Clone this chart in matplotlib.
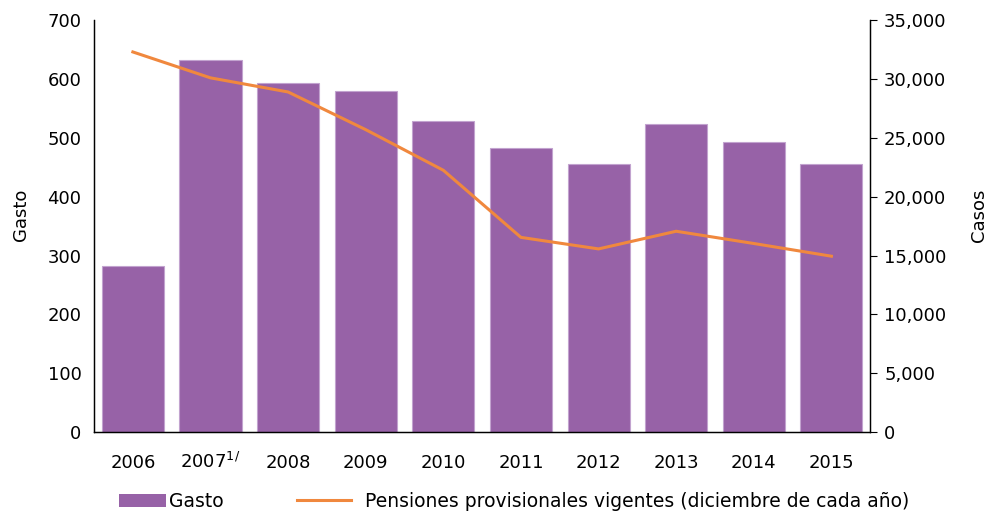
import matplotlib.pyplot as plt
import numpy as np
from matplotlib.ticker import FuncFormatter
from matplotlib.patches import Patch
from matplotlib.lines import Line2D

plt.rcParams["font.family"] = ["DejaVu Sans"]
FS = 13

# ── Data ────────────────────────────────────────────────────────
years = ["2006", r"2007$^{\mathregular{1/}}$", "2008", "2009", "2010",
         "2011", "2012", "2013", "2014", "2015"]
gasto = [282, 632, 594, 580, 528, 482, 455, 524, 493, 456]
casos = [32300, 30100, 28900, 25700, 22250, 16550, 15570, 17070, 16030, 14950]

BAR_COLOR = "#9762a7"
LINE_COLOR = "#f0883e"

fig = plt.figure(figsize=(9.9, 5.17), dpi=100)
ax = fig.add_axes([0.095, 0.164, 0.784, 0.797])
ax2 = ax.twinx()

x = np.arange(len(years))
ax.bar(x, gasto, width=0.8, color=BAR_COLOR, edgecolor="#c2a3cf", linewidth=0.8)
ax2.plot(x, casos, color=LINE_COLOR, linewidth=2.2)

ax.set_xlim(-0.5, len(years) - 0.5)
ax.set_ylim(0, 700)
ax2.set_ylim(0, 35000)
ax.set_yticks(range(0, 701, 100))
ax2.set_yticks(range(0, 35001, 5000))
ax2.yaxis.set_major_formatter(FuncFormatter(lambda v, p: f"{int(v):,}"))

ax.set_xticks(x)
ax.set_xticklabels(years)

for a in (ax, ax2):
    a.spines["top"].set_visible(False)
    for s in a.spines.values():
        s.set_linewidth(0.9)
ax.tick_params(axis="y", length=0, labelsize=FS, pad=9)
ax.tick_params(axis="x", length=0, labelsize=FS, pad=26)
ax2.tick_params(axis="y", length=5, width=0.8, labelsize=FS, pad=5)
# baseline-align year labels so the superscript does not push 2007 down
for lbl in ax.get_xticklabels():
    lbl.set_va("baseline")

ax.set_ylabel("Gasto", fontsize=FS)
ax2.set_ylabel("Casos", fontsize=FS)
ax.yaxis.set_label_coords(-0.082, 0.527)
ax2.yaxis.set_label_coords(1.128, 0.527)

fig.legend([Patch(facecolor=BAR_COLOR, edgecolor="none")], ["Gasto"],
           loc="center left", bbox_to_anchor=(0.103, 0.03), frameon=False,
           fontsize=13.5, handlelength=2.5, handletextpad=0.15)
fig.legend([Line2D([0], [0], color=LINE_COLOR, linewidth=2.2)],
           ["Pensiones provisionales vigentes (diciembre de cada año)"],
           loc="center left", bbox_to_anchor=(0.283, 0.03), frameon=False,
           fontsize=13.5, handlelength=2.9, handletextpad=0.75)

fig.savefig("out.png", dpi=100)
